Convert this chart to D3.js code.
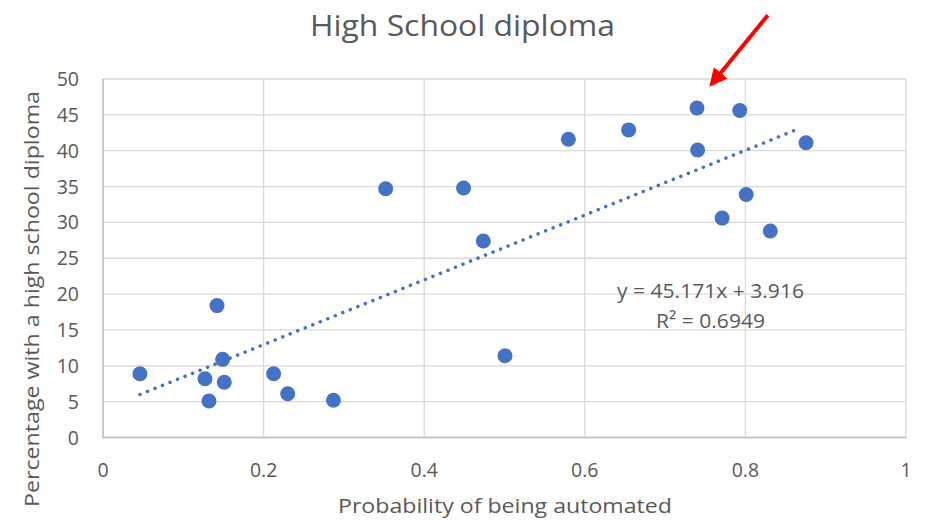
<!DOCTYPE html>
<html><head><meta charset="utf-8">
<script src="https://cdn.jsdelivr.net/npm/d3@7"></script>
<style>body{margin:0;background:#fff;}svg{display:block;font-family:"Open Sans",Lato,sans-serif;}</style>
</head><body>
<svg id="c" width="927" height="524"></svg>
<script>
const probability = [0.046,0.142,0.149,0.127,0.151,0.132,0.2125,0.230,0.287,0.352,0.449,0.4736,0.5006,0.5795,0.6546,0.7397,0.793,0.7405,0.8755,0.801,0.771,0.831];
const diplomaPct  = [8.9,18.4,10.9,8.2,7.7,5.1,8.9,6.1,5.2,34.7,34.8,27.4,11.4,41.6,42.9,45.95,45.6,40.1,41.1,33.9,30.6,28.8];
const xTicks = [0,0.2,0.4,0.6,0.8,1];
const yTicks = [0,5,10,15,20,25,30,35,40,45,50];
const slope = 45.171, intercept = 3.916, r2 = 0.6949;
const trendEnd = 0.869;
const arrowFrom = [0.828, 58.9], arrowTo = [0.758, 49.3];

const svg = d3.select("#c");
const x = d3.scaleLinear().domain([0,1]).range([103,906]);
const y = d3.scaleLinear().domain([0,50]).range([437.5,79]);
const grey = "#595959";

// gridlines
svg.append("g").selectAll("line").data(yTicks).join("line")
  .attr("x1",x(0)).attr("x2",x(1)).attr("y1",d=>y(d)).attr("y2",d=>y(d))
  .attr("stroke","#d9d9d9").attr("stroke-width",1.3);
svg.append("g").selectAll("line").data(xTicks).join("line")
  .attr("y1",y(0)).attr("y2",y(50)).attr("x1",d=>x(d)).attr("x2",d=>x(d))
  .attr("stroke","#d9d9d9").attr("stroke-width",1.3);
// axis lines
svg.append("line").attr("x1",x(0)).attr("x2",x(1)).attr("y1",y(0)).attr("y2",y(0)).attr("stroke","#bfbfbf").attr("stroke-width",1.5);
svg.append("line").attr("x1",x(0)).attr("x2",x(0)).attr("y1",y(0)).attr("y2",y(50)).attr("stroke","#bfbfbf").attr("stroke-width",1.5);

// tick labels
svg.append("g").selectAll("text").data(xTicks).join("text")
  .attr("x",d=>x(d)).attr("y",476.5).attr("text-anchor","middle")
  .attr("font-size",19.5).attr("fill",grey).text(d=>d3.format("~g")(d));
svg.append("g").selectAll("text").data(yTicks).join("text")
  .attr("x",79).attr("y",d=>y(d)+7).attr("text-anchor","end")
  .attr("font-size",19.5).attr("fill",grey).text(d=>d);

// trendline
const xmin = d3.min(probability);
svg.append("line")
  .attr("x1",x(xmin)).attr("y1",y(slope*xmin+intercept))
  .attr("x2",x(trendEnd)).attr("y2",y(slope*trendEnd+intercept))
  .attr("stroke","#4472c4").attr("stroke-width",3.5).attr("stroke-dasharray","0.1 8")
  .attr("stroke-linecap","round");

// points
svg.append("g").selectAll("circle").data(probability.map((p,i)=>[p,diplomaPct[i]])).join("circle")
  .attr("cx",d=>x(d[0])).attr("cy",d=>y(d[1])).attr("r",7.5).attr("fill","#4472c4");

function fitText(sel, w){ sel.attr("textLength",w).attr("lengthAdjust","spacingAndGlyphs"); return sel; }

// equation
fitText(svg.append("text").attr("x",710.5).attr("y",298).attr("text-anchor","middle").attr("font-size",20).attr("fill",grey)
  .text(`y = ${slope}x + ${intercept}`), 187);
fitText(svg.append("text").attr("x",710.5).attr("y",328).attr("text-anchor","middle").attr("font-size",20).attr("fill",grey)
  .text(`R² = ${r2}`), 109);

// titles
fitText(svg.append("text").attr("x",462.5).attr("y",36).attr("text-anchor","middle").attr("font-size",29).attr("fill",grey).text("High School diploma"), 305);
fitText(svg.append("text").attr("x",505).attr("y",513).attr("text-anchor","middle").attr("font-size",20.5).attr("fill",grey).text("Probability of being automated"), 334);
fitText(svg.append("text").attr("transform","translate(38.5,299) rotate(-90)").attr("text-anchor","middle").attr("font-size",20.5).attr("fill",grey).text("Percentage with a high school diploma"), 416);

// arrow
const defs = svg.append("defs");
defs.append("marker").attr("id","ah").attr("viewBox","0 0 10 10").attr("refX",8).attr("refY",5)
  .attr("markerWidth",4.5).attr("markerHeight",4.5).attr("orient","auto")
  .append("path").attr("d","M0,0L10,5L0,10z").attr("fill","#ff0000");
svg.append("line").attr("x1",x(arrowFrom[0])).attr("y1",y(arrowFrom[1])).attr("x2",x(arrowTo[0])).attr("y2",y(arrowTo[1]))
  .attr("stroke","#ff0000").attr("stroke-width",4).attr("marker-end","url(#ah)");
</script>
</body></html>
